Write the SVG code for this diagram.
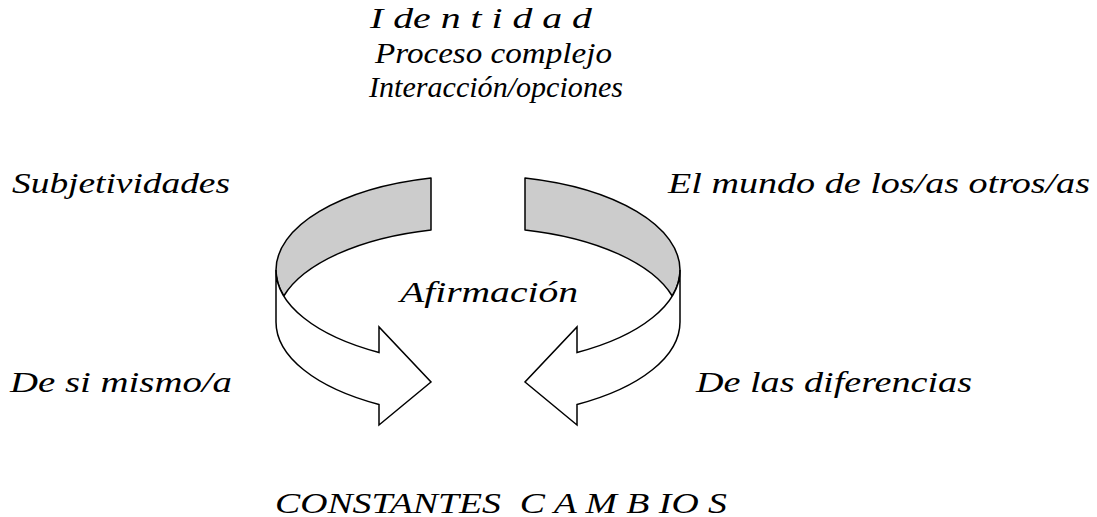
<svg xmlns="http://www.w3.org/2000/svg" width="1097" height="517" viewBox="0 0 1097 517">
<style>
.t{font-family:"Liberation Serif","DejaVu Serif",serif;font-style:italic;font-size:29px;fill:#000}
.band{fill:#cccccc;stroke:#000;stroke-width:1.5;stroke-linejoin:round}
.front{fill:#ffffff;stroke:#000;stroke-width:1.5;stroke-linejoin:miter}
</style>
<rect width="1097" height="517" fill="#ffffff"/>
<g id="connectors">
<g id="arrow-left">
<path class="band" d="M431,178 A202,94.6 0 0 0 276,270 A202,94.6 0 0 0 283.8,296 A202,94.6 0 0 1 431,230 Z"/>
<path class="front" d="M276,270 L276,322 A202,94.6 0 0 0 379,404.5 L379,425 L431,382 L379,327 L379,352.5 A202,94.6 0 0 1 276,270 Z"/>
</g>
<g id="arrow-right">
<path class="band" d="M525,178 A202,94.6 0 0 1 680,270 A202,94.6 0 0 1 672.2,296 A202,94.6 0 0 0 525,230 Z"/>
<path class="front" d="M680,270 L680,322 A202,94.6 0 0 1 577,404.5 L577,425 L525,382 L577,327 L577,352.5 A202,94.6 0 0 0 680,270 Z"/>
</g>
</g>
<g id="title">
<text class="t" x="370" y="28" textLength="222" lengthAdjust="spacingAndGlyphs">I de n t i d a d</text>
<text class="t" x="375" y="63" textLength="237" lengthAdjust="spacingAndGlyphs">Proceso complejo</text>
<text class="t" x="369" y="97" textLength="254" lengthAdjust="spacingAndGlyphs">Interacción/opciones</text>
</g>
<g id="subjetividades"><text class="t" x="12" y="193" textLength="218" lengthAdjust="spacingAndGlyphs">Subjetividades</text></g>
<g id="mundo"><text class="t" x="668" y="193" textLength="422" lengthAdjust="spacingAndGlyphs">El mundo de los/as otros/as</text></g>
<g id="afirmacion"><text class="t" x="400" y="302" textLength="178" lengthAdjust="spacingAndGlyphs">Afirmación</text></g>
<g id="si-mismo"><text class="t" x="10" y="392" textLength="222" lengthAdjust="spacingAndGlyphs">De si mismo/a</text></g>
<g id="diferencias"><text class="t" x="696" y="392" textLength="276" lengthAdjust="spacingAndGlyphs">De las diferencias</text></g>
<g id="cambios"><text class="t" x="275" y="513" textLength="452" lengthAdjust="spacingAndGlyphs" xml:space="preserve">CONSTANTES  C A M B IO S</text></g>
</svg>
